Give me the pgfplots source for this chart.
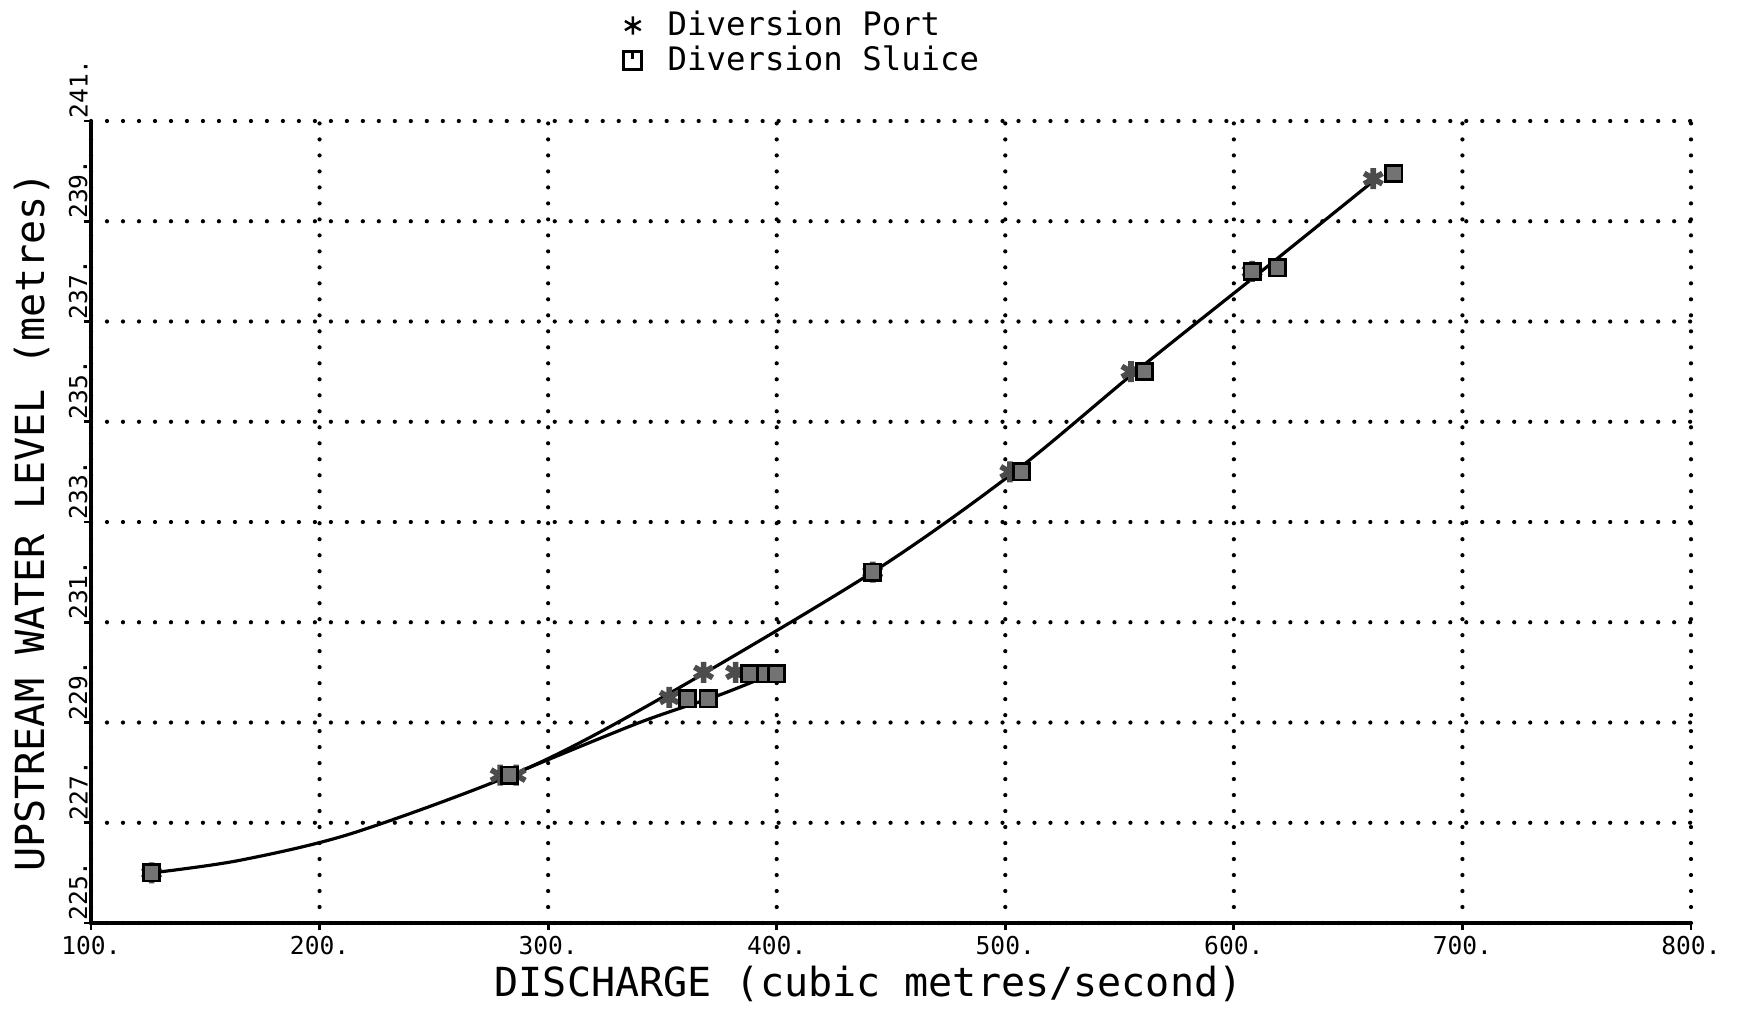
\documentclass[border=0pt]{standalone}
\usepackage{pgfplots}
\pgfplotsset{compat=1.18}
\usepackage{fontspec}
\setmainfont{DejaVu Sans Mono}
\begin{document}
\begin{tikzpicture}
\begin{axis}[
  at={(0,0)}, anchor=south west,
  scale only axis, width=160mm, height=80.2mm,
  xmin=100, xmax=800, ymin=225, ymax=241,
  xtick={100,200,...,800}, ytick={225,227,...,241},
  xticklabels={100.,200.,300.,400.,500.,600.,700.,800.},
  yticklabels={225.,227.,229.,231.,233.,235.,237.,239.,241.},
  axis lines*=left,
  axis line style={black, line width=1pt},
  grid=major,
  grid style={black, line width=1.2pt, dash pattern=on 0pt off 4.55pt, line cap=round},
  tick align=outside, major tick length=0.7mm,
  tick style={black, line width=0.8pt},
  ticklabel style={font=\fontsize{7}{8}\selectfont},
  yticklabel style={xshift=0.6mm, rotate=90, anchor=south west, inner sep=0.5pt},
  xticklabel style={inner sep=1.5pt},
  xlabel={DISCHARGE (cubic metres/second)},
  ylabel={UPSTREAM WATER LEVEL (metres)},
  label style={font=\fontsize{11.4}{13}\selectfont, inner sep=0pt},
  xlabel style={at={(axis description cs:0.486,-0.076)}, anchor=center},
  ylabel style={at={(axis description cs:-0.037,0.5)}, anchor=center},
  legend style={at={(0.3155,1.097)}, anchor=west, draw=none, fill=none,
    font=\fontsize{9.2}{11}\selectfont, row sep=-2.5pt, inner sep=1pt},
  legend cell align=left,
]
% fitted curves
\addplot[black, line width=0.9pt, smooth, tension=0.5, forget plot] coordinates {
  (126.5,226.0) (165,226.25) (215,226.8) (289,228.05) (348,229.45) (442,232.0)
  (504,234.0) (557,236.0) (612,238.0) (661,239.8)};
\addplot[black, line width=0.9pt, smooth, tension=0.5, forget plot] coordinates {
  (289,228.05) (340,229.0) (375,229.55) (398,229.97)};
% Diversion Port
\addplot[only marks, mark=asterisk, mark size=3pt, draw=black!70, line width=1.6pt,
  legend image code/.code={\path (0cm,0cm) (0.55cm,0cm); \draw[black, line width=0.7pt] plot[mark=asterisk, mark size=2.6pt] coordinates {(0.3cm,0cm)};}]
  coordinates {
  (126.5,226.0) (279,227.95) (286,227.95) (353,229.5) (368,230.0) (382,230.0)
  (442,232.0) (502,234.0) (555,236.0) (608,238.0) (661,239.85)};
\addlegendentry{Diversion Port}
% Diversion Sluice
\addplot[only marks, mark=square*, mark size=2.3pt, line width=0.8pt,
  mark options={draw=black, fill=black!55},
  legend image code/.code={\path (0cm,0cm) (0.55cm,0cm); \draw[black, fill=none, line width=0.8pt] (0.21cm,-0.085cm) rectangle (0.39cm,0.095cm); \draw[black, line width=0.8pt] (0.3cm,0.02cm) -- (0.3cm,0.095cm);}]
  coordinates {
  (126.5,226.0) (283,227.95) (361,229.47) (370,229.47) (388,229.97) (395,229.97) (400,229.97)
  (442,232.0) (507,234.0) (561,236.0) (608,238.0) (619,238.07) (670,239.95)};
\addlegendentry{Diversion Sluice}
\end{axis}
\path (-9.1mm,-8.6mm) rectangle (166mm,92.3mm);
\end{tikzpicture}
\end{document}
